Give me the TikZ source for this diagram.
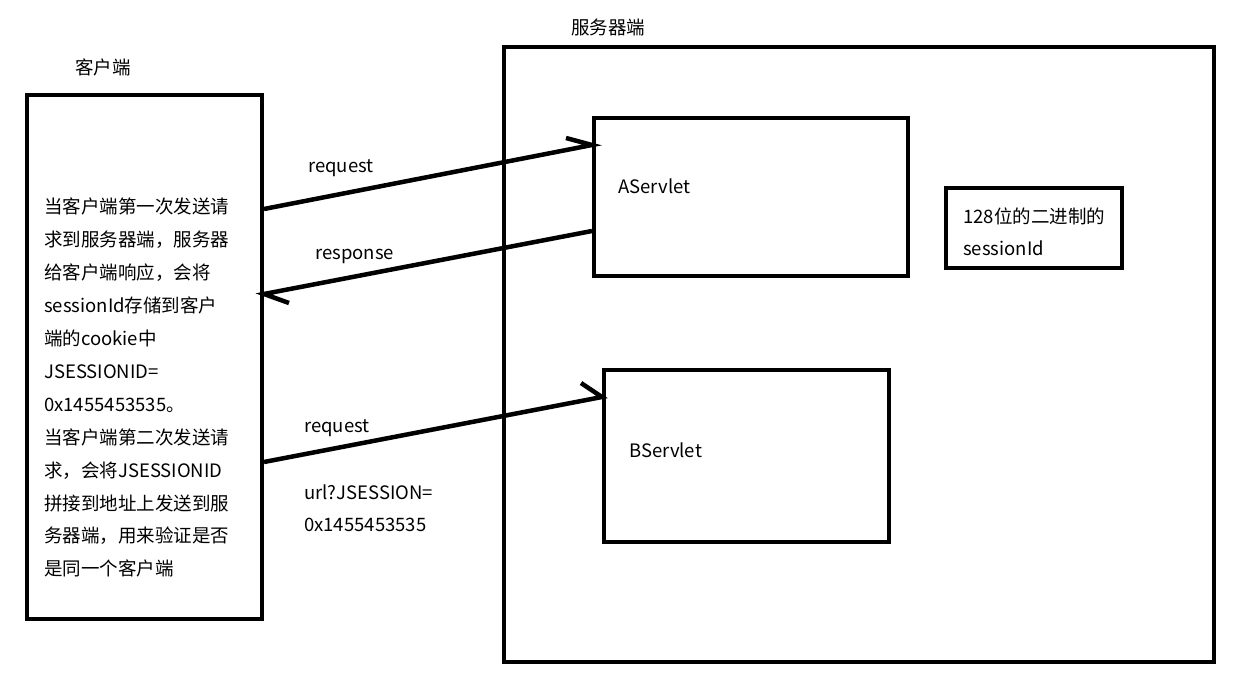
\documentclass[tikz,border=0pt]{standalone}
\usepackage{fontspec}
\usetikzlibrary{calc}
\setmainfont{Noto Sans CJK SC}
\begin{document}
\begin{tikzpicture}[x=1pt,y=-1pt,
  box/.style={draw=black,line width=4pt,inner sep=0pt,rectangle},
  conn/.style={line width=4.5pt,line cap=butt},
  lbl/.style={inner sep=0pt,anchor=base west,font=\fontsize{18.5}{22}\selectfont},
  body/.style={inner sep=0pt,anchor=north west,align=left,font=\fontsize{18.5}{32.9}\selectfont}]
\useasboundingbox[fill=white] (0,0) rectangle (1248,695);
% boxes
\node[box,minimum width=235pt,minimum height=524pt] (client) at (144.5,357) {};
\node[box,minimum width=710pt,minimum height=615pt] (server) at (859,354.5) {};
\node[box,minimum width=314pt,minimum height=158pt] (aserv) at (751,197) {};
\node[box,minimum width=285pt,minimum height=172pt] (bserv) at (746.5,456) {};
\node[box,minimum width=176pt,minimum height=80pt] (sid) at (1034,228) {};
% titles
\node[lbl] (tc) at (75,75) {客户端};
\node[lbl] (ts) at (571,35) {服务器端};
\node[lbl] (ta) at (618,194) {AServlet};
\node[lbl] (tb) at (629,457) {BServlet};
\node[lbl] (tsid1) at (963,224) {128位的二进制的};
\node[lbl] (tsid2) at (963,256) {sessionId};
% client text
\node[body] (ctext) at (44,198) {当客户端第一次发送请\\求到服务器端，服务器\\给客户端响应，会将\\sessionId存储到客户\\端的cookie中\\JSESSIONID=\\0x1455453535。\\当客户端第二次发送请\\求，会将JSESSIONID\\拼接到地址上发送到服\\务器端，用来验证是否\\是同一个客户端};
% connectors
\coordinate (y1) at (0,209);
\coordinate (y2) at (0,145);
\coordinate (y3) at (0,231);
\coordinate (y4) at (0,294);
\coordinate (y5) at (0,462);
\coordinate (y6) at (0,397);
\coordinate (r1a) at (client.east |- y1);
\coordinate (r1b) at (aserv.west |- y2);
\coordinate (r1h) at ($(r1b)+(-26,-7)$);
\coordinate (r2a) at (aserv.west |- y3);
\coordinate (r2b) at (client.east |- y4);
\coordinate (r2h) at ($(r2b)+(25,9)$);
\coordinate (r3a) at (client.east |- y5);
\coordinate (r3b) at (bserv.west |- y6);
\coordinate (r3h) at ($(r3b)+(-21,-14)$);
\draw[conn] (r1a) -- (r1b) -- (r1h);
\draw[conn] (r2a) -- (r2b) -- (r2h);
\draw[conn] (r3a) -- (r3b) -- (r3h);
\node[lbl] (l1) at (308,173) {request};
\node[lbl] (l2) at (315,259) {response};
\node[lbl] (l3) at (304,432) {request};
\node[lbl] (l4) at (304,499) {url?JSESSION=};
\node[lbl] (l5) at (304,531) {0x1455453535};
\end{tikzpicture}
\end{document}
